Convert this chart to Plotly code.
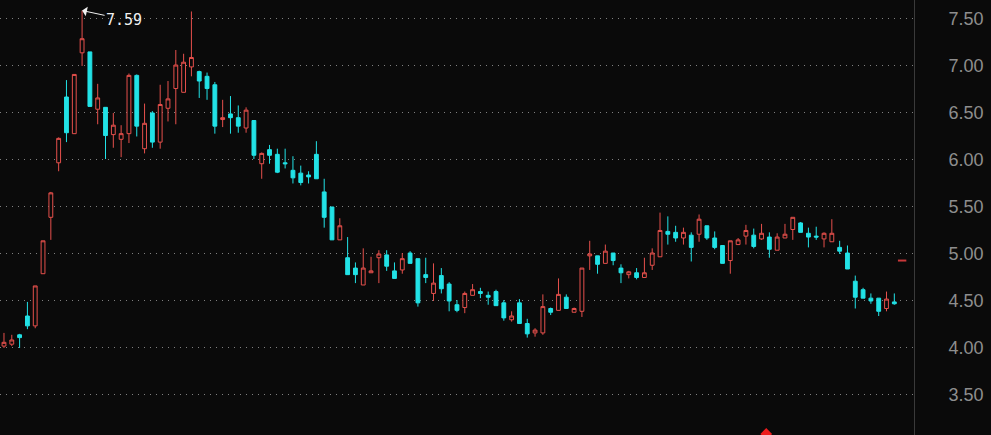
import plotly.graph_objects as go

opens = [4.02, 4.04, 4.14, 4.34, 4.235, 4.79, 5.39, 5.97, 6.67, 6.28,
         7.14, 7.15, 6.54, 6.56, 6.27, 6.22, 6.28, 6.90, 6.12, 6.50,
         6.19, 6.55, 6.76, 6.72, 6.99, 6.94, 6.89, 6.80, 6.43, 6.49,
         6.45, 6.34, 6.42, 5.96, 6.11, 6.06, 5.97, 5.89, 5.86, 5.84,
         6.06, 5.66, 5.50, 5.15, 4.96, 4.85, 4.67, 4.80, 4.96, 4.99,
         4.82, 4.83, 5.01, 4.95, 4.78, 4.58, 4.77, 4.68, 4.46, 4.43,
         4.56, 4.60, 4.56, 4.60, 4.48, 4.30, 4.48, 4.26, 4.16, 4.16,
         4.42, 4.40, 4.54, 4.38, 4.39, 4.98, 4.98, 4.90, 5.01, 4.85,
         4.78, 4.80, 4.75, 4.88, 4.97, 5.24, 5.23, 5.17, 5.20, 5.21,
         5.30, 5.17, 5.09, 4.93, 5.10, 5.19, 5.20, 5.16, 5.18, 5.04,
         5.17, 5.26, 5.33, 5.22, 5.19, 5.16, 5.13, 5.07, 5.01, 4.71,
         4.62, 4.53, 4.53, 4.42, 4.49]
highs = [4.16, 4.14, 4.15, 4.49, 4.66, 5.14, 5.66, 6.24, 6.85, 6.91,
         7.59, 7.15, 6.81, 6.56, 6.50, 6.37, 6.92, 6.91, 6.60, 6.52,
         6.80, 6.84, 7.17, 7.13, 7.58, 6.95, 6.93, 6.83, 6.64, 6.68,
         6.58, 6.56, 6.42, 6.08, 6.16, 6.12, 6.12, 6.04, 5.94, 5.88,
         6.20, 5.80, 5.50, 5.38, 5.18, 4.91, 5.06, 4.97, 5.04, 5.04,
         4.91, 5.01, 5.03, 4.95, 4.96, 4.90, 4.85, 4.70, 4.51, 4.60,
         4.68, 4.64, 4.60, 4.62, 4.51, 4.39, 4.52, 4.31, 4.21, 4.57,
         4.43, 4.74, 4.57, 4.43, 4.85, 5.14, 4.98, 5.10, 5.01, 4.89,
         4.82, 4.85, 4.96, 5.06, 5.44, 5.40, 5.30, 5.28, 5.23, 5.42,
         5.30, 5.24, 5.09, 5.14, 5.17, 5.31, 5.27, 5.32, 5.23, 5.22,
         5.32, 5.39, 5.34, 5.28, 5.29, 5.23, 5.37, 5.14, 5.09, 4.77,
         4.64, 4.58, 4.53, 4.60, 4.58]
lows = [4.00, 4.02, 4.00, 4.20, 4.21, 4.79, 5.15, 5.88, 6.19, 6.28,
        7.00, 6.57, 6.38, 6.01, 6.13, 6.03, 6.18, 6.25, 6.07, 6.13,
        6.12, 6.41, 6.38, 6.72, 6.89, 6.66, 6.64, 6.28, 6.35, 6.28,
        6.29, 6.29, 6.01, 5.80, 5.96, 5.86, 5.91, 5.75, 5.73, 5.75,
        5.80, 5.28, 5.15, 5.15, 4.78, 4.69, 4.67, 4.80, 4.69, 4.82,
        4.74, 4.79, 4.90, 4.44, 4.69, 4.50, 4.58, 4.39, 4.38, 4.37,
        4.56, 4.53, 4.46, 4.45, 4.29, 4.28, 4.26, 4.11, 4.12, 4.14,
        4.35, 4.40, 4.42, 4.38, 4.33, 4.83, 4.79, 4.90, 4.88, 4.69,
        4.74, 4.73, 4.75, 4.83, 4.97, 5.10, 5.13, 5.10, 4.92, 5.13,
        5.15, 5.05, 4.90, 4.79, 5.10, 5.10, 5.06, 5.15, 4.96, 5.04,
        5.17, 5.15, 5.23, 5.07, 5.15, 5.07, 5.13, 5.00, 4.84, 4.42,
        4.53, 4.47, 4.34, 4.39, 4.46]
closes = [4.06, 4.085, 4.11, 4.235, 4.66, 5.14, 5.65, 6.23, 6.29, 6.91,
          7.29, 6.57, 6.66, 6.26, 6.37, 6.28, 6.90, 6.36, 6.39, 6.19,
          6.59, 6.65, 7.01, 7.04, 7.09, 6.84, 6.76, 6.36, 6.45, 6.45,
          6.36, 6.53, 6.05, 6.07, 6.05, 5.87, 5.96, 5.81, 5.76, 5.82,
          5.80, 5.39, 5.15, 5.30, 4.78, 4.78, 4.85, 4.82, 5.00, 4.87,
          4.74, 4.95, 4.90, 4.48, 4.75, 4.69, 4.63, 4.50, 4.40, 4.58,
          4.62, 4.58, 4.54, 4.45, 4.32, 4.34, 4.26, 4.15, 4.19, 4.44,
          4.38, 4.57, 4.42, 4.42, 4.85, 5.00, 4.89, 5.03, 4.93, 4.80,
          4.81, 4.75, 4.80, 5.01, 5.25, 5.21, 5.17, 5.23, 5.07, 5.37,
          5.17, 5.07, 4.90, 5.14, 5.15, 5.25, 5.08, 5.22, 5.05, 5.18,
          5.21, 5.39, 5.23, 5.18, 5.18, 5.22, 5.22, 5.03, 4.84, 4.54,
          4.53, 4.50, 4.39, 4.52, 4.47]

days = list(range(len(opens)))
peak_day, peak_value = 10, 7.59
marker_day, marker_value = [115], [4.93]
signal_day, signal_value = [97.6], [3.085]
ytick_vals = [3.5, 4.0, 4.5, 5.0, 5.5, 6.0, 6.5, 7.0, 7.5]
ytick_text = ["3.50", "4.00", "4.50", "5.00", "5.50", "6.00", "6.50", "7.00", "7.50"]

BG = "#0a0a0a"
RED = "#e6504c"
CYAN = "#22e2e6"

fig = go.Figure()
fig.add_trace(go.Candlestick(
    x=days, open=opens, high=highs, low=lows, close=closes,
    increasing=dict(line=dict(color=RED, width=1), fillcolor=BG),
    decreasing=dict(line=dict(color=CYAN, width=1), fillcolor=CYAN),
    whiskerwidth=0, showlegend=False, hoverinfo="skip",
))
fig.add_trace(go.Scatter(
    x=marker_day, y=marker_value, mode="markers",
    marker=dict(symbol="line-ew", size=6, line=dict(color="#c8383a", width=2)),
    showlegend=False, hoverinfo="skip",
))
fig.add_trace(go.Scatter(
    x=signal_day, y=signal_value, mode="markers",
    marker=dict(symbol="diamond", size=9, color="#ee1c1c"),
    showlegend=False, hoverinfo="skip", cliponaxis=True,
))

fig.add_annotation(
    x=peak_day, y=peak_value, text="7.59", showarrow=True,
    arrowhead=1, arrowsize=1.6, arrowwidth=1, arrowcolor="#f0f0f0",
    ax=42, ay=9, xanchor="center", yanchor="middle",
    font=dict(family="DejaVu Sans Mono", size=15, color="#f0f0f0"),
)

fig.update_layout(
    width=991, height=435,
    margin=dict(l=0, r=77, t=0, b=0, autoexpand=False),
    paper_bgcolor=BG, plot_bgcolor=BG,
    showlegend=False,
    xaxis=dict(range=[-0.51, 116.52], visible=False, rangeslider=dict(visible=False)),
    yaxis=dict(
        side="right", range=[3.074, 7.702],
        tickvals=ytick_vals, ticktext=ytick_text,
        showgrid=True, gridcolor="#808080", griddash="1px,5px", gridwidth=1,
        zeroline=False, showline=True, linecolor="#3a3a3a", linewidth=1,
        ticks="outside", ticklen=30, tickcolor="rgba(0,0,0,0)",
        tickfont=dict(family="Liberation Sans", size=18, color="#8e8e8e"),
    ),
)

fig.write_html(
    "out.html",
    config={"displayModeBar": False, "staticPlot": True},
    post_script="document.body.style.margin='0';document.body.style.background='#0a0a0a';",
)
